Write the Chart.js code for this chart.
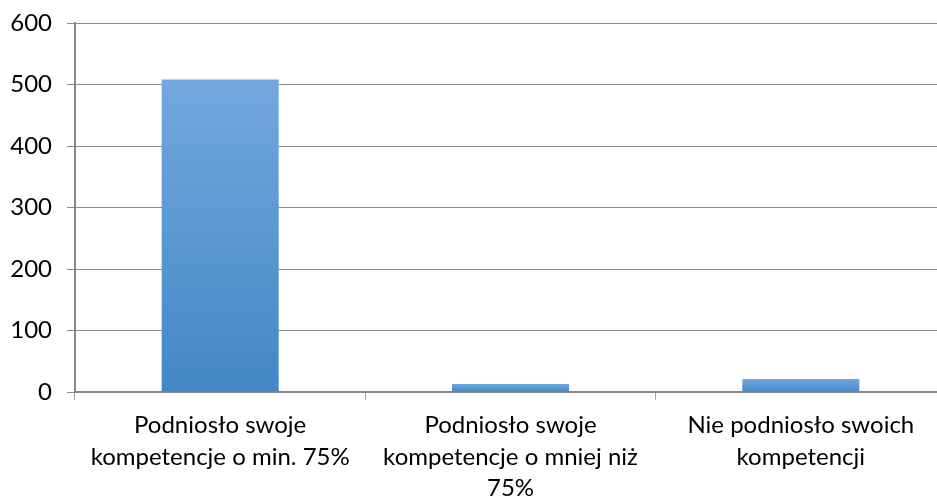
<!DOCTYPE html>
<html>
<head>
<meta charset="utf-8">
<script src="https://cdn.jsdelivr.net/npm/chart.js@4"></script>
<style>
  html, body { margin: 0; padding: 0; background: #fff; overflow: hidden; width: 937px; height: 501px; }
  #wrap { position: absolute; left: 0; top: 0; width: 960px; height: 501px; }
</style>
</head>
<body>
<div id="wrap"><canvas id="c"></canvas></div>
<script>
const categories = [
  ["Podniosło swoje", "kompetencje o min. 75%"],
  ["Podniosło swoje", "kompetencje o mniej niż", "75%"],
  ["Nie podniosło swoich", "kompetencji"]
];
const values = [508, 13, 21];
const yTicks = [0, 100, 200, 300, 400, 500, 600];

const FONT = "Lato, 'Open Sans', sans-serif";

function barGradient(ctx) {
  const chart = ctx.chart;
  if (!chart.chartArea || ctx.type !== 'data') return '#5a9bd8';
  const y = chart.scales.y;
  const top = y.getPixelForValue(ctx.raw);
  const base = y.getPixelForValue(0);
  if (!isFinite(top) || !isFinite(base) || Math.abs(base - top) < 1) return '#5a9bd8';
  const g = chart.ctx.createLinearGradient(0, top, 0, base);
  g.addColorStop(0, '#72a8dd');
  g.addColorStop(1, '#4487c7');
  return g;
}

new Chart(document.getElementById('c'), {
  type: 'bar',
  data: {
    labels: categories,
    datasets: [{
      data: values,
      backgroundColor: barGradient,
      borderWidth: 0,
      categoryPercentage: 1,
      barPercentage: 0.403
    }]
  },
  options: {
    responsive: true,
    maintainAspectRatio: false,
    animation: false,
    layout: { padding: { top: 23, right: 14, left: 0, bottom: 0 } },
    plugins: { legend: { display: false }, tooltip: { enabled: false } },
    scales: {
      x: {
        offset: true,
        grid: {
          offset: true,
          drawOnChartArea: false,
          drawTicks: true,
          tickLength: 8,
          color: '#a6a6a6',
          lineWidth: 1
        },
        border: { display: true, color: '#878787', width: 2 },
        ticks: {
          color: '#000',
          font: { family: FONT, size: 24, lineHeight: 1.31 },
          padding: 10,
          maxRotation: 0,
          minRotation: 0,
          autoSkip: false
        },
        afterFit: (s) => { s.height = 109; s.paddingLeft = 0; s.paddingRight = 0; }
      },
      y: {
        min: 0,
        max: 600,
        afterBuildTicks: (s) => { s.ticks = yTicks.map(v => ({ value: v })); },
        grid: {
          color: '#8c8c8c',
          lineWidth: 1,
          drawTicks: true,
          tickLength: 8
        },
        border: { display: true, color: '#878787', width: 2 },
        ticks: {
          color: '#000',
          font: { family: FONT, size: 24 },
          padding: 15
        },
        afterFit: (s) => { s.width = 75; s.paddingTop = 0; s.paddingBottom = 0; }
      }
    }
  }
});
</script>
</body>
</html>
